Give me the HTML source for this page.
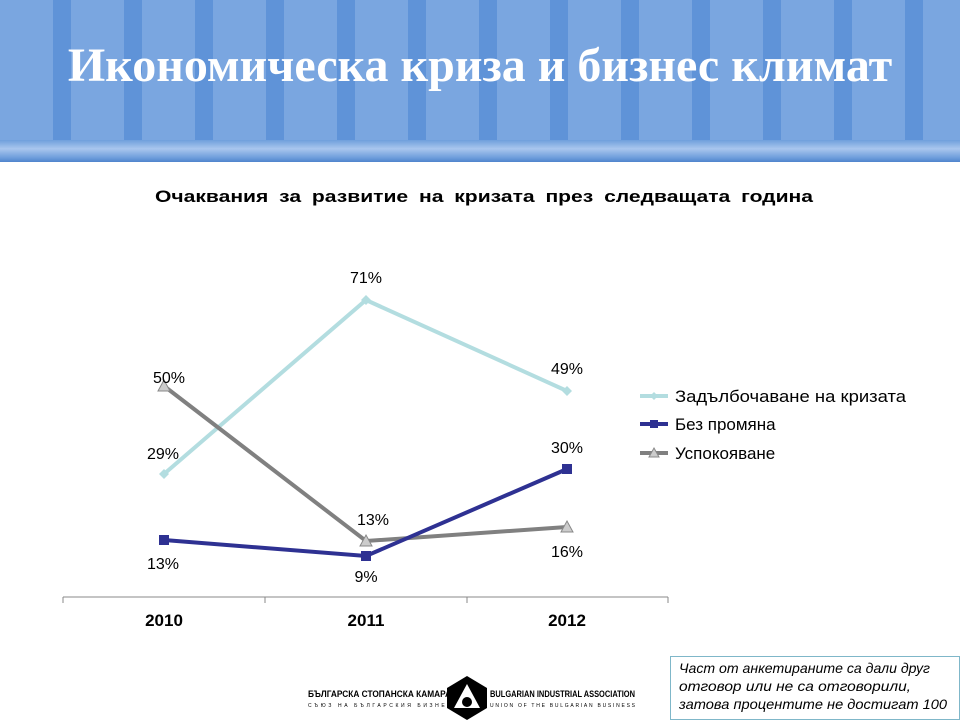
<!DOCTYPE html>
<html><head><meta charset="utf-8"><style>
body{margin:0;width:960px;height:720px;overflow:hidden;background:#fff;font-family:"Liberation Sans",sans-serif;position:relative}
.hdr{position:absolute;left:0;top:0;width:960px;height:162px;background:repeating-linear-gradient(90deg,#7aa6e0 0 53px,#5f93d8 53px 71px);}
.hdr:after{content:"";position:absolute;left:0;right:0;top:140px;height:22px;background:linear-gradient(#6f9fdc,#a9c6ee 40%,#6e9edc 80%,#4f84cc)}
.title{position:absolute;left:0;width:960px;top:38px;text-align:center;font:bold 48px "Liberation Serif",serif;color:#fff;z-index:2}
.note{position:absolute;left:670px;top:656px;width:290px;height:64px;border:1px solid #7fb7c9;box-sizing:border-box}
</style></head><body>
<div class="hdr"></div>
<div class="title">Икономическа криза и бизнес климат</div>
<div class="note"></div>
<svg width="960" height="720" style="position:absolute;left:0;top:0" font-family="Liberation Sans, sans-serif">
<text x="155" y="202" font-size="17" font-weight="bold" word-spacing="4" textLength="658" lengthAdjust="spacingAndGlyphs">Очаквания за развитие на кризата през следващата година</text>
<line x1="63" y1="597" x2="668" y2="597" stroke="#888"/>
<g stroke="#888"><line x1="63" y1="597" x2="63" y2="603"/><line x1="265" y1="597" x2="265" y2="603"/><line x1="467" y1="597" x2="467" y2="603"/><line x1="668" y1="597" x2="668" y2="603"/></g>
<g font-size="17" font-weight="bold" text-anchor="middle"><text x="164" y="626">2010</text><text x="366" y="626">2011</text><text x="567" y="626">2012</text></g>
<polyline points="164,474 366,300 567,391" fill="none" stroke="#b3dde0" stroke-width="4"/>
<polyline points="164,386 366,541 567,527" fill="none" stroke="#808080" stroke-width="4"/>
<polyline points="164,540 366,556 567,469" fill="none" stroke="#2e3192" stroke-width="4"/>
<g fill="#b3dde0"><path d="M164 469l5 5-5 5-5-5z"/><path d="M366 295l5 5-5 5-5-5z"/><path d="M567 386l5 5-5 5-5-5z"/></g>
<g fill="#ccc" stroke="#888"><path d="M164 380l6 11h-12z"/><path d="M366 535l6 11h-12z"/><path d="M567 521l6 11h-12z"/></g>
<g fill="#2e3192"><rect x="159" y="535" width="10" height="10"/><rect x="361" y="551" width="10" height="10"/><rect x="562" y="464" width="10" height="10"/></g>
<g font-size="16" text-anchor="middle"><text x="163" y="459">29%</text><text x="366" y="283">71%</text><text x="567" y="374">49%</text>
<text x="169" y="383">50%</text><text x="373" y="525">13%</text><text x="567" y="557">16%</text>
<text x="163" y="569">13%</text><text x="366" y="582">9%</text><text x="567" y="453">30%</text></g>
<line x1="640" y1="396" x2="668" y2="396" stroke="#b3dde0" stroke-width="4"/><path d="M654 392l4 4-4 4-4-4z" fill="#b3dde0"/>
<line x1="640" y1="424" x2="668" y2="424" stroke="#2e3192" stroke-width="4"/><rect x="650" y="420" width="8" height="8" fill="#2e3192"/>
<line x1="640" y1="453" x2="668" y2="453" stroke="#808080" stroke-width="4"/><path d="M654 448l5 9h-10z" fill="#ccc" stroke="#888"/>
<g font-size="17"><text x="675" y="402" textLength="231" lengthAdjust="spacingAndGlyphs">Задълбочаване на кризата</text><text x="675" y="430">Без промяна</text><text x="675" y="459">Успокояване</text></g>
<text x="308" y="697" font-size="9" font-weight="bold" textLength="143" lengthAdjust="spacingAndGlyphs">БЪЛГАРСКА СТОПАНСКА КАМАРА</text>
<text x="308" y="707" font-size="5" textLength="143" lengthAdjust="spacing">СЪЮЗ НА БЪЛГАРСКИЯ БИЗНЕС</text>
<path d="M467 676l20 12v20l-20 12-20-12v-20z" fill="#000"/>
<path d="M467 684l13 24h-26z" fill="#fff"/><circle cx="467" cy="702" r="5" fill="#000"/>
<text x="490" y="697" font-size="9" font-weight="bold" textLength="145" lengthAdjust="spacingAndGlyphs">BULGARIAN INDUSTRIAL ASSOCIATION</text>
<text x="490" y="707" font-size="5" textLength="145" lengthAdjust="spacing">UNION OF THE BULGARIAN BUSINESS</text>
<g font-size="14" font-style="italic"><text x="679" y="673" textLength="251" lengthAdjust="spacingAndGlyphs">Част от анкетираните са дали друг</text><text x="679" y="691" textLength="232" lengthAdjust="spacingAndGlyphs">отговор или не са отговорили,</text><text x="679" y="709" textLength="268" lengthAdjust="spacingAndGlyphs">затова процентите не достигат 100</text></g>
</svg>
</body></html>
